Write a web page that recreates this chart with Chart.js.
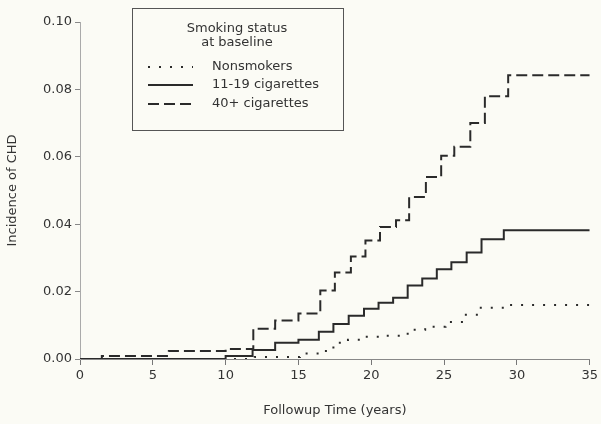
<!DOCTYPE html>
<html>
<head>
<meta charset="utf-8">
<script src="https://cdn.jsdelivr.net/npm/chart.js@4/dist/chart.umd.min.js"></script>
<style>
  html, body { margin: 0; padding: 0; background: #fbfbf5; }
  #wrap { width: 601px; height: 424px; }
</style>
</head>
<body>
<div id="wrap"><canvas id="c" width="601" height="424"></canvas></div>
<script>
// ---- data ----
const nonsmokerTimes  = [0, 12.0, 15.1, 16.5, 17.4, 18.4, 19.6, 20.6, 22.5, 23.7, 25.1, 26.4, 27.4, 29.1, 35];
const nonsmokerValues = [0, 0.0006, 0.0016, 0.0024, 0.0048, 0.0057, 0.0066, 0.0069, 0.0087, 0.0096, 0.0110, 0.0131, 0.0152, 0.0160, 0.0160];

const cig1119Times  = [0, 10, 11.85, 13.4, 15.0, 16.4, 17.4, 18.45, 19.5, 20.5, 21.5, 22.5, 23.5, 24.5, 25.5, 26.55, 27.57, 29.1, 35];
const cig1119Values = [0, 0.0009, 0.0027, 0.0048, 0.0057, 0.0081, 0.0104, 0.0128, 0.0149, 0.0167, 0.0182, 0.0218, 0.0239, 0.0266, 0.0287, 0.0316, 0.0355, 0.0382, 0.0382];

const cig40Times  = [0, 1.5, 6.1, 10, 11.9, 13.4, 15.0, 16.5, 17.5, 18.6, 19.6, 20.6, 21.7, 22.6, 23.75, 24.8, 25.7, 26.8, 27.8, 29.4, 35];
const cig40Values = [0, 0.0009, 0.0024, 0.0030, 0.0090, 0.0114, 0.0135, 0.0203, 0.0257, 0.0304, 0.0352, 0.0392, 0.0412, 0.0481, 0.0540, 0.0603, 0.0630, 0.0700, 0.0780, 0.0842, 0.0842];

const seriesLabels = ['Nonsmokers', '11-19 cigarettes', '40+ cigarettes'];
const legendTitle = ['Smoking status', 'at baseline'];
const xTickValues = [0, 5, 10, 15, 20, 25, 30, 35];
const yTickLabels = ['0.00', '0.02', '0.04', '0.06', '0.08', '0.10'];
const xTitle = 'Followup Time (years)';
const yTitle = 'Incidence of CHD';

// ---- styling ----
const INK = '#2a2a2a';
const TEXT = '#333333';
const FONT = 'DejaVu Sans';
const dashStyles = [[2, 9], [], [11, 5]];

function pts(ts, vs) { return ts.map((t, i) => ({ x: t, y: vs[i] })); }

const datasets = [
  { label: seriesLabels[0], data: pts(nonsmokerTimes, nonsmokerValues) },
  { label: seriesLabels[1], data: pts(cig1119Times, cig1119Values) },
  { label: seriesLabels[2], data: pts(cig40Times, cig40Values) }
].map((d, i) => Object.assign(d, {
  stepped: 'before',
  borderColor: INK,
  borderWidth: 2,
  borderDash: dashStyles[i],
  pointRadius: 0,
  fill: false,
  tension: 0
}));

const bgPlugin = {
  id: 'bg',
  beforeDraw(chart) {
    const ctx = chart.ctx;
    ctx.save();
    ctx.fillStyle = '#fbfbf5';
    ctx.fillRect(0, 0, chart.width, chart.height);
    ctx.restore();
  }
};

const boxLegend = {
  id: 'boxLegend',
  afterDraw(chart) {
    const ctx = chart.ctx;
    ctx.save();
    const L = 132, T = 8, W = 211, H = 122;
    ctx.fillStyle = '#fbfbf5';
    ctx.fillRect(L, T, W, H);
    ctx.strokeStyle = '#555';
    ctx.lineWidth = 1;
    ctx.strokeRect(L + 0.5, T + 0.5, W, H);
    ctx.fillStyle = TEXT;
    ctx.font = '13px "' + FONT + '"';
    ctx.textAlign = 'center';
    ctx.textBaseline = 'middle';
    ctx.fillText(legendTitle[0], 237, 29);
    ctx.fillText(legendTitle[1], 237, 43);
    const rowsY = [67, 85, 104];
    ctx.textAlign = 'left';
    seriesLabels.forEach((lab, i) => {
      ctx.strokeStyle = INK;
      ctx.lineWidth = 2;
      ctx.setLineDash(dashStyles[i]);
      ctx.beginPath();
      ctx.moveTo(148, rowsY[i]);
      ctx.lineTo(193, rowsY[i]);
      ctx.stroke();
      ctx.setLineDash([]);
      ctx.fillText(lab, 212, rowsY[i]);
    });
    ctx.restore();
  }
};

new Chart(document.getElementById('c'), {
  type: 'line',
  data: { datasets },
  plugins: [bgPlugin, boxLegend],
  options: {
    responsive: false,
    animation: false,
    layout: { padding: { left: 0, right: 9, top: 22, bottom: 0 } },
    plugins: { legend: { display: false }, tooltip: { enabled: false } },
    scales: {
      x: {
        type: 'linear',
        min: 0, max: 35,
        afterFit(s) { s.height = 65; },
        afterBuildTicks(s) { s.ticks = xTickValues.map(v => ({ value: v })); },
        ticks: { color: TEXT, font: { family: FONT, size: 13 }, padding: 3,
                 callback: v => String(v) },
        grid: { drawOnChartArea: false, drawTicks: true, tickLength: 6, color: '#777' },
        border: { color: '#888', width: 1 },
        title: { display: true, text: xTitle, color: TEXT,
                 font: { family: FONT, size: 13 }, padding: { top: 4, bottom: 6 } }
      },
      y: {
        type: 'linear',
        min: 0, max: 0.10,
        afterFit(s) { s.width = 80; },
        afterBuildTicks(s) { s.ticks = yTickLabels.map(l => ({ value: parseFloat(l) })); },
        ticks: { color: TEXT, font: { family: FONT, size: 13 }, padding: 3,
                 callback: (v, i) => yTickLabels[i] },
        grid: { drawOnChartArea: false, drawTicks: true, tickLength: 5, color: '#888' },
        border: { color: '#aaa', width: 1 },
        title: { display: true, text: yTitle, color: TEXT,
                 font: { family: FONT, size: 13 }, padding: { top: 5, bottom: 4 } }
      }
    }
  }
});
</script>
</body>
</html>
